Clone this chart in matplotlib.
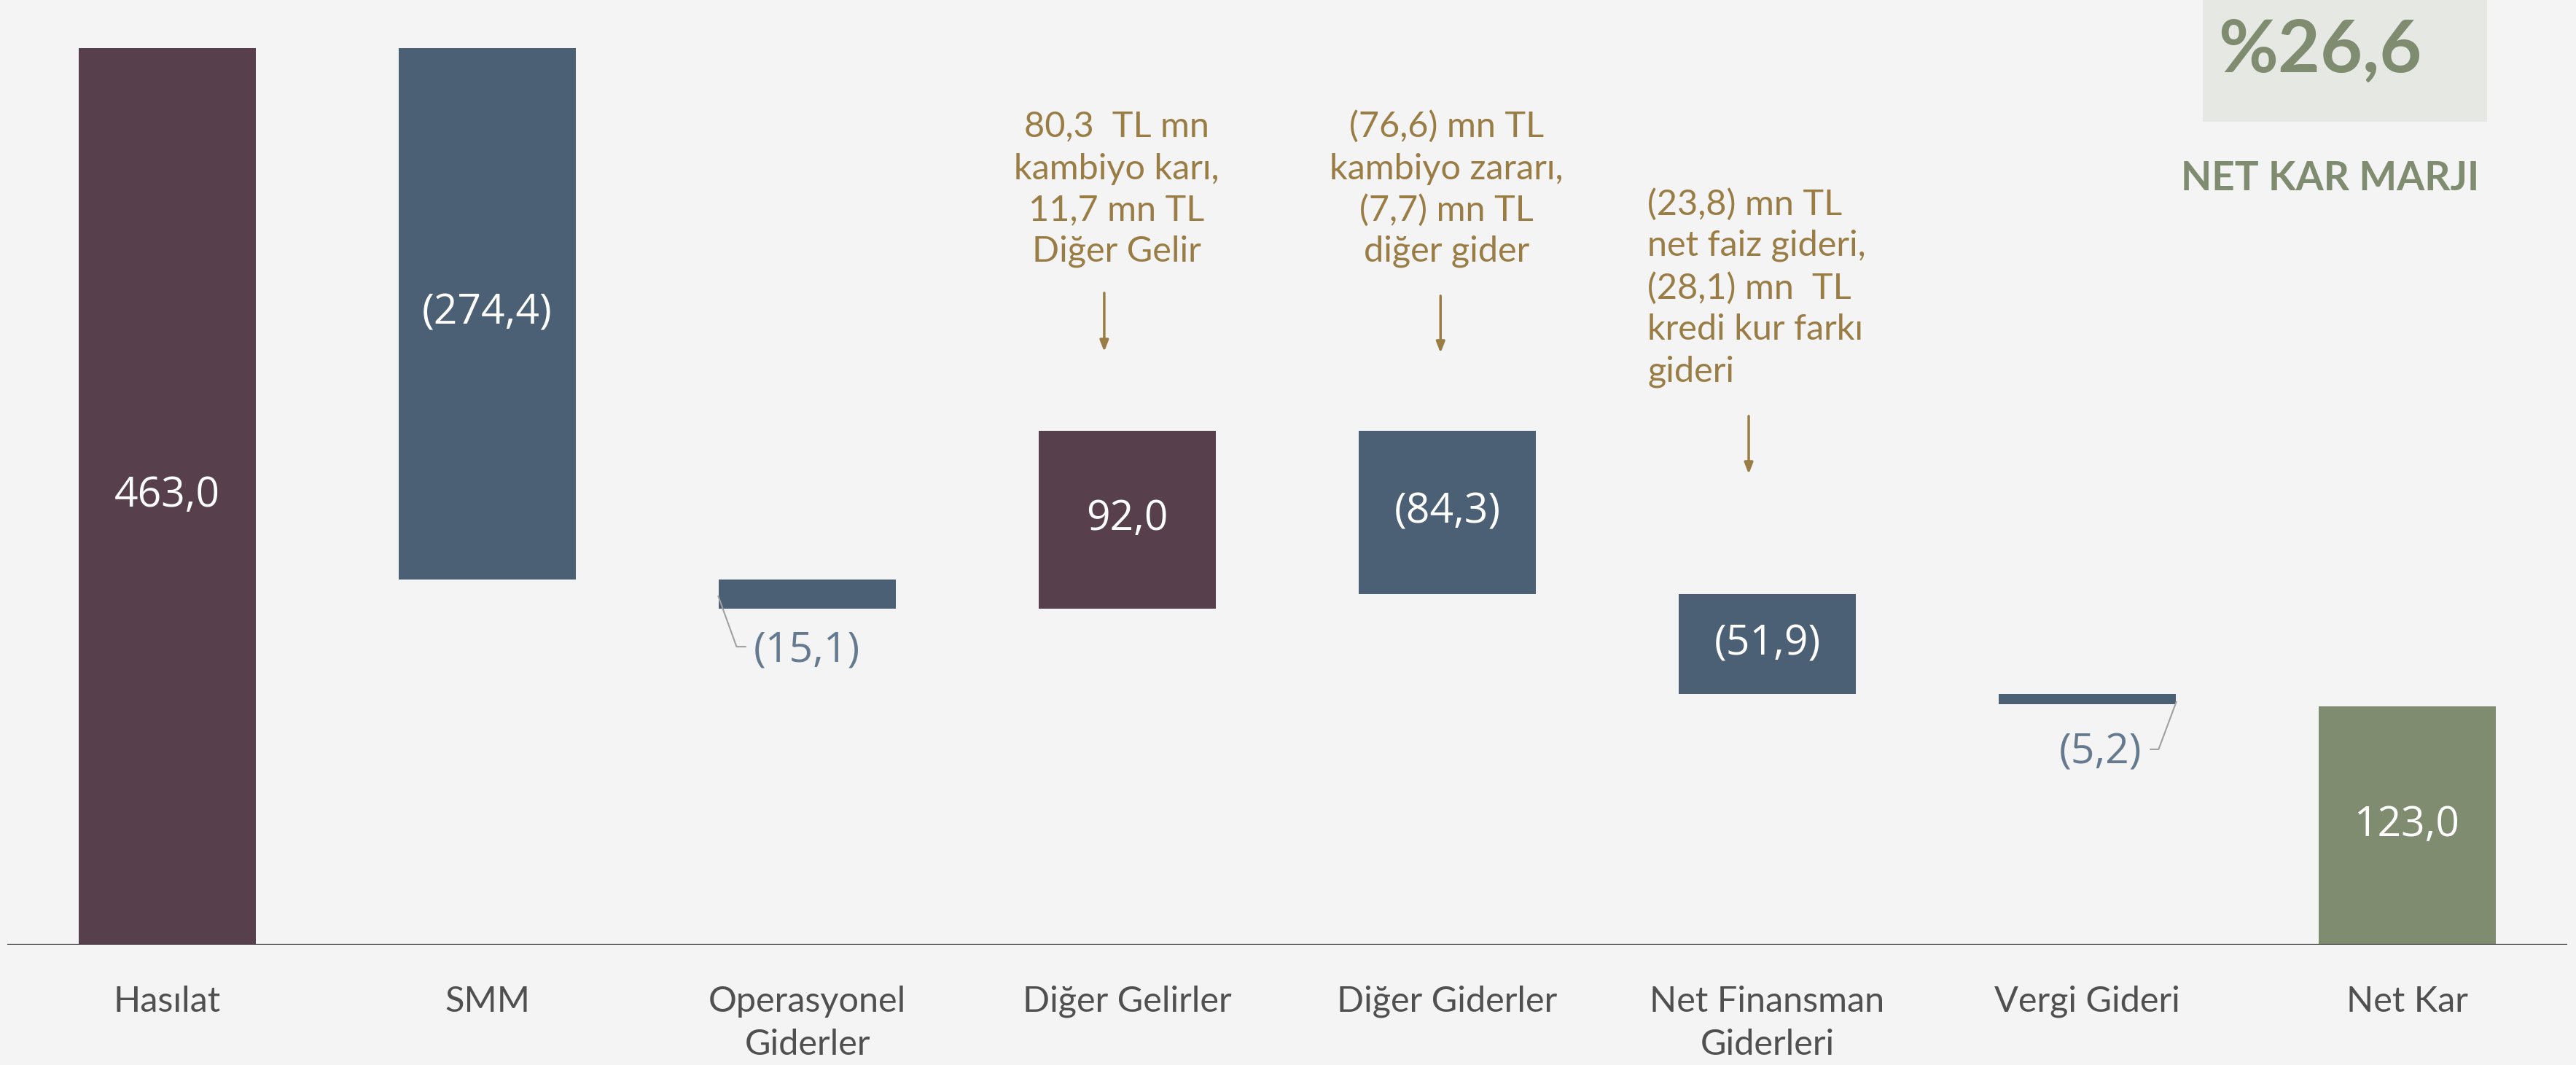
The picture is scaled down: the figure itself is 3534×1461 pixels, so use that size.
import matplotlib
matplotlib.use("Agg")
import matplotlib.pyplot as plt
from matplotlib.patches import Rectangle
import numpy as np

# ---- data ----
categories = ["Hasılat", "SMM", "Operasyonel\nGiderler", "Diğer Gelirler",
              "Diğer Giderler", "Net Finansman\nGiderleri", "Vergi Gideri", "Net Kar"]
values = [463.0, -274.4, -15.1, 92.0, -84.3, -51.9, -5.2, 123.0]
is_total = [True, False, False, False, False, False, False, True]
value_labels = ["463,0", "(274,4)", "(15,1)", "92,0", "(84,3)", "(51,9)", "(5,2)", "123,0"]
margin_value = "%26,6"
margin_label = "NET KAR MARJI"
note_gelir = ["80,3  TL mn", "kambiyo karı,", "11,7 mn TL", "Diğer Gelir"]
note_gider = ["(76,6) mn TL", "kambiyo zararı,", "(7,7) mn TL", "diğer gider"]
note_finans = ["(23,8) mn TL", "net faiz gideri,", "(28,1) mn  TL", "kredi kur farkı", "gideri"]

BG = "#F4F4F4"
MAROON = "#573F4B"
SLATE = "#4B6075"
GREEN = "#7F8C70"
GOLD = "#9A7C45"
LBL_OUT = "#667A8F"
TICK = "#505050"

fig = plt.figure(figsize=(35.34, 14.61), dpi=100, facecolor=BG)
ax = fig.add_axes([10/3534, (1461-1296)/1461, 3512/3534, 1296/1461])
ax.set_facecolor(BG)

# waterfall geometry
bottoms, heights = [], []
running = 0.0
for v, tot in zip(values, is_total):
    if tot:
        bottoms.append(0.0); heights.append(v); running = v
    else:
        new = running + v
        bottoms.append(min(running, new)); heights.append(abs(v)); running = new

colors = []
for i, (v, tot) in enumerate(zip(values, is_total)):
    if tot and i == len(values) - 1:
        colors.append(GREEN)
    elif v > 0:
        colors.append(MAROON)
    else:
        colors.append(SLATE)

x = np.arange(len(categories))
ax.bar(x, heights, bottom=bottoms, width=0.555, color=colors, zorder=2)
ax.set_xlim(-0.5, len(categories) - 0.5)
ax.set_ylim(0, 487.8)
ax.axhline(0, color="#404040", lw=1.6, zorder=3)

for s in ["top", "right", "left", "bottom"]:
    ax.spines[s].set_visible(False)
ax.set_yticks([])
ax.set_xticks(x)
ax.set_xticklabels(categories, fontsize=35, color=TICK, family="Lato", linespacing=1.42)
ax.tick_params(axis="x", length=0, pad=40)

# value labels
outside = {2: (1.998, 151.7), 6: (6.041, 99.0)}
for i, (b, h, lab) in enumerate(zip(bottoms, heights, value_labels)):
    if i in outside:
        xx, yy = outside[i]
        ax.text(xx, yy, lab, ha="center", va="center", fontsize=41,
                color=LBL_OUT, family="Open Sans", zorder=4)
    else:
        ax.text(i, b + h / 2, lab, ha="center", va="center", fontsize=41,
                color="white", family="Open Sans", zorder=4)

# leader lines
ax.plot([1.722, 1.779, 1.807], [179.9, 153.9, 153.9], color="#A0A0A0", lw=1.5, zorder=5)
ax.plot([6.278, 6.223, 6.198], [125.3, 100.9, 100.9], color="#A0A0A0", lw=1.5, zorder=5)

# annotations
def lines_text(xc, ys, lines, ha="center"):
    for yy, t in zip(ys, lines):
        ax.text(xc, yy, t, ha=ha, va="center", fontsize=35, color=GOLD,
                family="Lato", zorder=4)

lines_text(2.967, [422.4, 400.4, 379.1, 357.9], note_gelir)
lines_text(3.998, [422.4, 400.4, 379.1, 357.9], note_gider)
lines_text(4.626, [382.4, 360.9, 339.1, 317.6, 295.8], note_finans, ha="left")

arrow_kw = dict(arrowstyle="-|>,head_length=0.9,head_width=0.35", color=GOLD, lw=2.5)
ax.annotate("", xy=(2.928, 305.2), xytext=(2.928, 337.6), arrowprops=arrow_kw)
ax.annotate("", xy=(3.979, 304.5), xytext=(3.979, 336.1), arrowprops=arrow_kw)
ax.annotate("", xy=(4.942, 242.0), xytext=(4.942, 274.0), arrowprops=arrow_kw)

# net margin box
fig.patches.append(Rectangle((3022/3534, 1 - 167/1461), 390/3534, 167/1461,
                             transform=fig.transFigure, facecolor="#E5E8E3",
                             edgecolor="none", zorder=0))
fig.text(3183/3534, 1 - 70/1461, margin_value, ha="center", va="center",
         fontsize=72, fontweight="bold", color=GREEN, family="Lato")
fig.text(3197/3534, 1 - 245/1461, margin_label, ha="center", va="center",
         fontsize=39.5, fontweight="bold", color=GREEN, family="Lato")

fig.savefig("out.png", dpi=100, facecolor=BG)
